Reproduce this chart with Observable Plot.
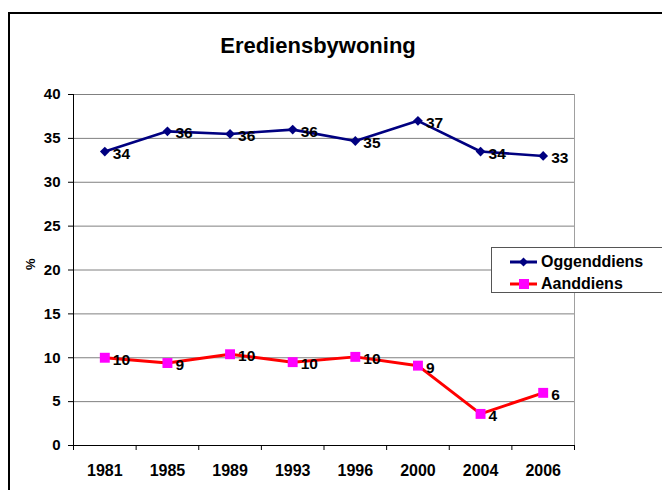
<!DOCTYPE html>
<html>
<head>
<meta charset="utf-8">
<script src="https://cdn.jsdelivr.net/npm/d3@7"></script>
<script src="https://cdn.jsdelivr.net/npm/@observablehq/plot@0.6"></script>
<style>
  html, body { margin: 0; padding: 0; background: #fff; }
  body { width: 662px; height: 490px; overflow: hidden; position: relative; font-family: "Liberation Sans", Arial, sans-serif; }
  #frame { position: absolute; left: 8px; top: 12px; width: 700px; height: 520px; border: 2px solid #000; box-sizing: border-box; }
  #title { position: absolute; left: 0; width: 636px; top: 35px; text-align: center; font-size: 22px; line-height: 22px; font-weight: bold; color: #000; }
  #chart { position: absolute; left: 0; top: 0; }
  #legend { position: absolute; left: 491px; top: 247px; width: 200px; height: 46px; border: 1.5px solid #555; box-sizing: border-box; background: #fff; }
  .row { position: absolute; left: 18px; height: 22px; display: flex; align-items: center; font-size: 16px; font-weight: bold; color: #000; }
  .row svg { margin-right: 3px; }
</style>
</head>
<body>
<div id="frame"></div>
<div id="chart"></div>
<div id="title">Erediensbywoning</div>
<div id="legend"></div>
<script>
const years = ["1981", "1985", "1989", "1993", "1996", "2000", "2004", "2006"];
const oggenddiens = [33.5, 35.8, 35.5, 36.0, 34.7, 37.0, 33.5, 33.0];
const oggLabels = [34, 36, 36, 36, 35, 37, 34, 33];
const aanddiens = [10.0, 9.4, 10.4, 9.5, 10.1, 9.1, 3.6, 6.0];
const aandLabels = [10, 9, 10, 10, 10, 9, 4, 6];
const yTicks = [0, 5, 10, 15, 20, 25, 30, 35, 40];
const seriesNames = ["Oggenddiens", "Aanddiens"];

const ogg = years.map((y, i) => ({i, year: y, v: oggenddiens[i], label: oggLabels[i]}));
const aand = years.map((y, i) => ({i, year: y, v: aanddiens[i], label: aandLabels[i]}));
const centers = years.map((_, i) => i);
const bounds = years.map((_, i) => i - 0.5).concat([years.length - 0.5]);

const navy = "#000080", red = "#ff0000", magenta = "#ff00ff";

const plot = Plot.plot({
  width: 662,
  height: 490,
  marginLeft: 73,
  marginRight: 88,
  marginTop: 94,
  marginBottom: 45,
  style: {fontFamily: "'Liberation Sans', Arial, sans-serif", fontWeight: "bold", color: "#000", background: "transparent", overflow: "visible"},
  x: {type: "linear", domain: [-0.5, years.length - 0.5]},
  y: {domain: [0, 40]},
  marks: [
    Plot.ruleY(yTicks.filter(d => d > 0), {stroke: "#808080", strokeWidth: 1, strokeOpacity: 1}),
    Plot.ruleX([years.length - 0.5], {stroke: "#a0a0a0", strokeWidth: 1}),
    Plot.ruleX([-0.5], {stroke: "#000", strokeWidth: 1}),
    Plot.ruleY([0], {stroke: "#000", strokeWidth: 1}),
    Plot.axisY({ticks: yTicks, tickSize: 5, tickPadding: 8, fontSize: 15, label: null, stroke: "#000"}),
    Plot.axisX({ticks: centers, tickSize: 0, tickPadding: 19, fontSize: 16, label: null, tickFormat: i => years[i]}),
    Plot.axisX({ticks: bounds, tickSize: 5, tickFormat: () => "", label: null, stroke: "#000"}),
    Plot.text(["%"], {frameAnchor: "left", dx: -43, rotate: -90, fontSize: 13, fill: "#000"}),
    Plot.line(ogg, {x: "i", y: "v", stroke: navy, strokeWidth: 2.6}),
    Plot.dot(ogg, {x: "i", y: "v", symbol: "diamond2", r: 4.4, fill: navy, stroke: null}),
    Plot.text(ogg, {x: "i", y: "v", text: "label", dx: 8, dy: 2, textAnchor: "start", fontSize: 15.5, fill: "#000"}),
    Plot.line(aand, {x: "i", y: "v", stroke: red, strokeWidth: 3}),
    Plot.dot(aand, {x: "i", y: "v", symbol: "square", r: 5.6, fill: magenta, stroke: null}),
    Plot.text(aand, {x: "i", y: "v", text: "label", dx: 8, dy: 2, textAnchor: "start", fontSize: 15.5, fill: "#000"})
  ]
});
document.getElementById("chart").appendChild(plot);

// legend
const legend = document.getElementById("legend");
const swatches = [
  {name: seriesNames[0], stroke: navy, fill: navy, shape: "diamond"},
  {name: seriesNames[1], stroke: red, fill: magenta, shape: "square"}
];
swatches.forEach((s, k) => {
  const row = document.createElement("div");
  row.className = "row";
  row.style.top = (3 + k * 21.5) + "px";
  const marker = s.shape === "diamond"
    ? `<path d="M13.5,6.5 L18,11 L13.5,15.5 L9,11 Z" fill="${s.fill}"/>`
    : `<rect x="9" y="6" width="10" height="10" fill="${s.fill}"/>`;
  row.innerHTML = `<svg width="28" height="22"><line x1="0" x2="27" y1="11" y2="11" stroke="${s.stroke}" stroke-width="3"/>${marker}</svg><span>${s.name}</span>`;
  legend.appendChild(row);
});
</script>
</body>
</html>
